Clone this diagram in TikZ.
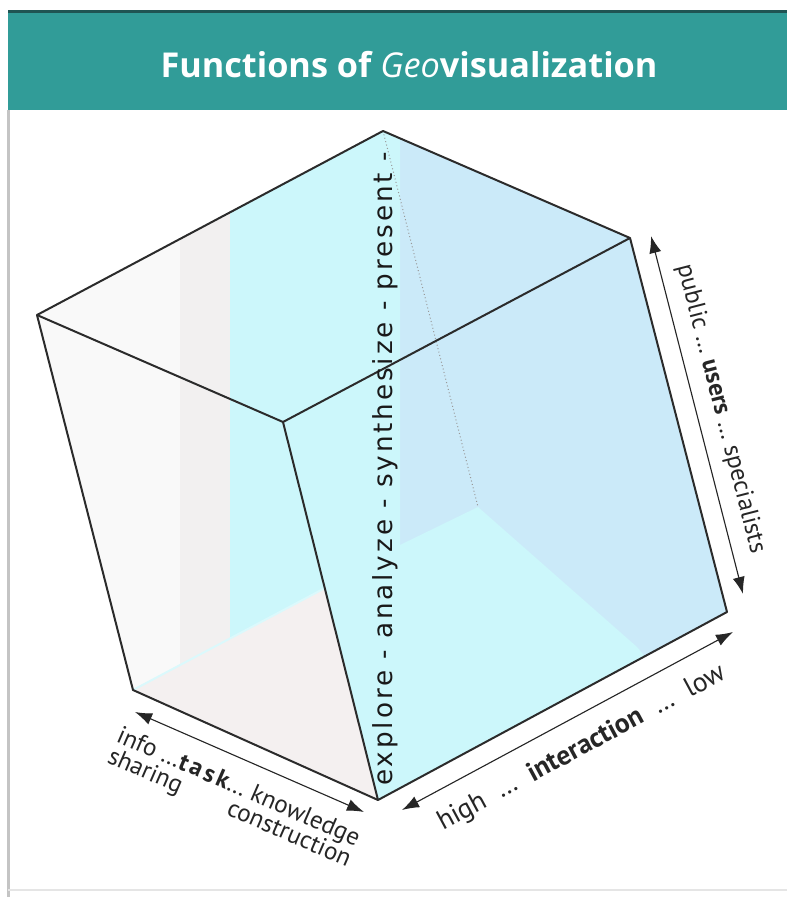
\documentclass[tikz,border=0pt]{standalone}
\usepackage{fontspec}
\setmainfont{PT Sans}
\newfontfamily\vertfont[LetterSpace=11]{DejaVu Sans}
\newfontfamily\titlefont{Open Sans}
\usetikzlibrary{arrows.meta}
\definecolor{cband}{HTML}{319C98}
\definecolor{cbanddk}{HTML}{1F5453}
\definecolor{cframe}{HTML}{C4C4C4}
\definecolor{cedge}{HTML}{2B2B2B}
\definecolor{cblue}{HTML}{CBEAF9}
\definecolor{ccyan}{HTML}{CCF7FB}
\definecolor{cwhite}{HTML}{F9F9F9}
\definecolor{cgreyband}{HTML}{F2F0F0}
\definecolor{cfloor}{HTML}{F4F0F0}
\tikzset{
  edge/.style={draw=cedge, line width=0.8pt, line join=round},
  hidden/.style={draw=black!40, densely dotted, line width=0.4pt},
  axis/.style={{Latex[length=2.4mm,width=1.7mm]}-{Latex[length=2.4mm,width=1.7mm]}, line width=0.45pt, draw=black!85},
  lbl/.style={font=\fontsize{10}{11}\selectfont, text=black!85, inner sep=1pt},
  ttl/.style={font=\titlefont\bfseries\fontsize{13.7}{16}\selectfont, text=white},
  vert/.style={font=\vertfont\fontsize{10.5}{12}\selectfont, rotate=90, text=black!90, inner sep=0pt},
}
\begin{document}
\begin{tikzpicture}[x=0.4pt, y=-0.4pt]
\useasboundingbox (0,0) rectangle (787,897);
% frame and title
\fill[cband] (8,12) rectangle (787,110);
\draw[cbanddk, line width=1.2pt] (8,12) -- (787,12);
\draw[cframe, line width=1.2pt] (8,110) -- (8,897);
\draw[black!10, line width=0.6pt] (8,890) -- (787,890);
\node[ttl] (title) at (409,65) {Functions of {\mdseries\itshape Geo}visualization};
% cube corners
\coordinate (T) at (383,131);
\coordinate (L) at (37,315);
\coordinate (F) at (283,422);
\coordinate (R) at (630,238);
\coordinate (BL) at (133,690);
\coordinate (B) at (378,800);
\coordinate (BR) at (727,612);
\coordinate (H) at (478,507);
\coordinate (X) at (325,588);
% shading
\begin{scope}
  \clip (T) -- (R) -- (BR) -- (B) -- (BL) -- (L) -- cycle;
  \fill[cblue] (0,100) rectangle (787,897);
  \fill[ccyan] (230,100) -- (400,100) -- (400,545) -- (H) -- (637,647) -- (652,665) -- (652,897) -- (230,897) -- cycle;
  \fill[cwhite] (0,100) rectangle (180,897);
  \fill[cgreyband] (180,100) rectangle (230,897);
  \fill[cfloor] (BL) -- (X) -- (B) -- cycle;
  \draw[ccyan!70!white, line width=0.8pt] (BL) -- (X);
\end{scope}
\draw[hidden] (T) -- (H);
% edges
\draw[edge] (T) -- (L) -- (F) -- (R) -- cycle;
\draw[edge] (L) -- (BL) -- (B) -- (BR) -- (R);
\draw[edge] (F) -- (B);
\node[vert] (fn) at (385,469) {explore - analyze - synthesize - present -};
% axes
\coordinate (u1) at (651,236);
\coordinate (u2) at (743,594);
\coordinate (i1) at (402,810);
\coordinate (i2) at (733,632);
\coordinate (t1) at (135,712);
\coordinate (t2) at (364,812);
\draw[axis] (u1) -- (u2) node[lbl, midway, sloped, above=4pt] (users) {public \dots\ \textbf{users} \dots\ specialists};
\draw[axis] (i1) -- (i2) node[lbl, midway, sloped, below=6pt, font=\fontsize{11}{12}\selectfont] (inter) {high \ \dots\ \ \textbf{interaction} \ \dots\ \ low};
\draw[axis] (t1) -- (t2) node[lbl, midway, sloped, below=5pt] (task) {\begin{tabular}{@{}l@{}}info \dots{\bfseries\addfontfeature{LetterSpace=12}task}\dots\ knowledge\\[-2pt] sharing\hfill construction\end{tabular}};
\end{tikzpicture}
\end{document}
